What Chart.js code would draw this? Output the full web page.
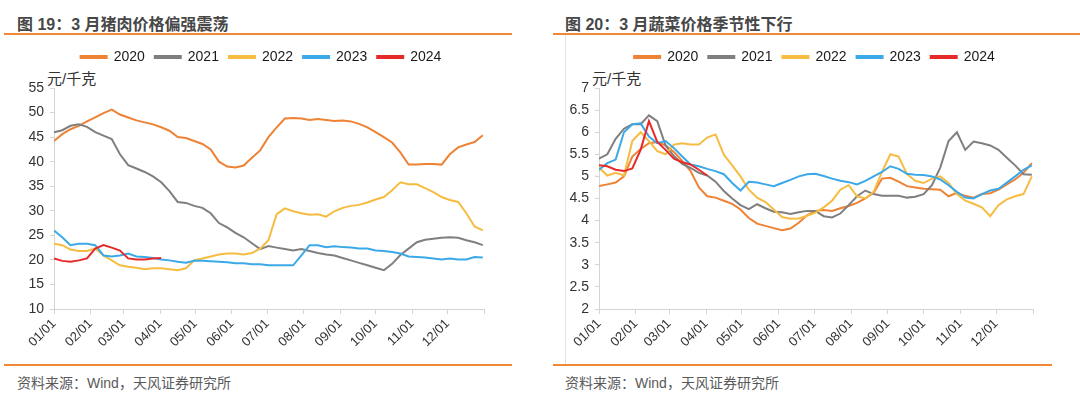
<!DOCTYPE html>
<html>
<head>
<meta charset="utf-8">
<script src="https://cdn.jsdelivr.net/npm/chart.js@4.4.1/dist/chart.umd.min.js"></script>
<style>
  body { margin: 0; background: #fff; width: 1080px; height: 395px; position: relative; overflow: hidden;
         font-family: "Liberation Sans", "Noto Sans CJK SC", sans-serif; }
  .title { position: absolute; top: 11px; font-size: 16px; font-weight: bold; color: #474747; white-space: nowrap; }
  .rule { position: absolute; height: 2px; background: #F0883A; }
  .unit { position: absolute; top: 67px; font-size: 15px; color: #333; }
  .source { position: absolute; top: 372px; font-size: 14px; color: #595959; white-space: nowrap; }
  canvas { position: absolute; }
</style>
</head>
<body>
<div class="title" style="left:17px">图 19：3 月猪肉价格偏强震荡</div>
<div class="rule" style="left:4px; width:508px; top:33px"></div>
<div class="unit" style="left:47px">元/千克</div>
<canvas id="pork" width="515" height="323" style="left:0; top:36px"></canvas>
<div class="rule" style="left:4px; width:508px; top:364px; height:1.5px"></div>
<div class="source" style="left:17px">资料来源：Wind，天风证券研究所</div>

<div class="title" style="left:565px">图 20：3 月蔬菜价格季节性下行</div>
<div class="rule" style="left:553px; width:527px; top:33px"></div>
<div style="position:absolute; left:565px; top:35px; width:1px; height:330px; background:#e3e3e3"></div>
<div class="unit" style="left:592px">元/千克</div>
<canvas id="veg" width="514" height="323" style="left:566px; top:36px"></canvas>
<div class="rule" style="left:553px; width:499px; top:364px; height:1.5px"></div>
<div class="source" style="left:565px">资料来源：Wind，天风证券研究所</div>

<script>
// x positions: day of year, sampled weekly
const days = [0,7,14,21,28,35,42,49,56,63,70,77,84,91,98,105,112,119,126,133,140,147,154,161,168,175,182,
  189,196,203,210,217,224,231,238,245,252,259,266,273,280,287,294,301,308,315,322,329,336,343,350,357,364];
const monthTicks = [0,31,59,90,120,151,181,212,243,273,304,334,365];
const monthLabels = ['01/01','02/01','03/01','04/01','05/01','06/01','07/01','08/01','09/01','10/01','11/01','12/01',''];
const years = ['2020','2021','2022','2023','2024'];
const colors = ['#EE8235','#7F7F7F','#F6BC42','#3BA9E8','#E62A2A'];

// 猪肉 元/千克
const pork2020 = [44.2,45.6,46.6,47.3,48.2,49.0,49.9,50.6,49.6,49.0,48.4,48.0,47.6,47.0,46.3,45.0,44.8,44.2,43.6,42.5,40.0,39.0,38.8,39.2,40.8,42.3,45.0,
  47.0,48.8,48.9,48.8,48.5,48.7,48.5,48.3,48.4,48.2,47.7,47.0,46.0,45.0,43.9,41.9,39.4,39.4,39.5,39.5,39.4,41.5,42.9,43.5,44.0,45.4];
const pork2021 = [46.0,46.4,47.3,47.6,47.1,46.0,45.3,44.6,41.5,39.3,38.6,37.9,37.0,35.8,34.0,31.8,31.6,31.0,30.6,29.5,27.5,26.6,25.5,24.6,23.4,22.2,22.8,
  22.5,22.2,21.9,22.2,21.8,21.4,21.1,20.9,20.4,19.9,19.4,18.9,18.4,17.9,19.2,21.0,22.3,23.6,24.1,24.3,24.5,24.6,24.5,24.0,23.6,23.0];
const pork2022 = [23.3,23.0,22.1,21.8,21.8,22.3,20.9,19.9,18.9,18.6,18.4,18.1,18.3,18.3,18.1,17.9,18.3,19.9,20.3,20.7,21.1,21.3,21.3,21.1,21.4,22.3,24.0,
  29.3,30.5,29.9,29.5,29.2,29.3,28.8,29.9,30.6,31.0,31.2,31.7,32.3,32.8,34.2,35.8,35.4,35.4,34.6,33.8,32.8,32.2,31.8,29.5,26.8,26.0];
const pork2023 = [26.0,24.6,23.0,23.3,23.3,23.0,20.9,20.7,20.9,21.3,20.7,20.6,20.4,20.1,19.9,19.6,19.4,19.8,19.8,19.7,19.6,19.5,19.3,19.3,19.1,19.1,18.9,
  18.9,18.9,18.9,20.9,23.0,23.0,22.6,22.8,22.6,22.5,22.3,22.3,21.9,21.8,21.6,21.3,20.7,20.6,20.5,20.3,20.1,20.3,20.1,20.1,20.6,20.5];
const pork2024 = [20.3,19.8,19.6,19.9,20.3,22.3,23.0,22.5,21.9,20.3,20.1,20.1,20.3,20.4];

// 蔬菜 元/千克
const veg2020 = [4.78,4.82,4.86,5.0,5.45,5.62,5.75,5.78,5.7,5.55,5.35,5.12,4.75,4.55,4.52,4.45,4.38,4.25,4.06,3.93,3.88,3.83,3.78,3.82,3.95,4.12,4.22,
  4.24,4.22,4.28,4.33,4.4,4.5,4.63,4.95,4.97,4.88,4.78,4.75,4.72,4.71,4.7,4.55,4.63,4.56,4.52,4.6,4.62,4.7,4.82,4.93,5.08,5.3];
const veg2021 = [5.4,5.5,5.85,6.08,6.18,6.18,6.38,6.25,5.7,5.46,5.28,5.19,5.08,5.02,4.88,4.67,4.5,4.35,4.26,4.37,4.28,4.2,4.19,4.15,4.19,4.22,4.22,
  4.1,4.07,4.16,4.35,4.55,4.68,4.6,4.56,4.56,4.56,4.52,4.54,4.6,4.8,5.2,5.8,6.0,5.6,5.79,5.75,5.7,5.6,5.42,5.25,5.05,5.04];
const veg2022 = [5.2,5.02,5.08,5.02,5.8,6.0,5.8,5.57,5.5,5.72,5.75,5.72,5.72,5.88,5.95,5.49,5.25,5.0,4.7,4.52,4.42,4.25,4.08,4.04,4.05,4.11,4.18,
  4.3,4.45,4.7,4.8,4.55,4.5,4.65,5.1,5.5,5.45,5.05,4.9,4.85,4.95,5.0,4.85,4.6,4.45,4.38,4.3,4.1,4.35,4.48,4.55,4.6,5.0];
const veg2023 = [5.15,5.3,5.38,6.0,6.18,6.2,5.9,5.75,5.8,5.64,5.45,5.27,5.23,5.17,5.12,5.05,4.85,4.68,4.88,4.86,4.82,4.78,4.85,4.92,5.0,5.05,5.06,
  5.01,4.95,4.9,4.87,4.82,4.9,5.0,5.1,5.23,5.17,5.06,5.04,5.03,5.0,4.93,4.8,4.65,4.52,4.5,4.6,4.68,4.72,4.86,5.0,5.15,5.25];
const veg2024 = [5.25,5.23,5.15,5.12,5.18,5.6,6.25,5.78,5.6,5.4,5.32,5.27,5.15,5.02];

const FONT = '"Liberation Sans", "Noto Sans CJK SC", sans-serif';

// legend: extra room below it, and nudged right like the original
function legendTweak(dx) {
    return {
        id: 'legendTweak',
        afterInit(chart) {
            const lg = chart.legend;
            if (!lg) return;
            const fit = lg.fit;
            lg.fit = function () {
                fit.call(this);
                this.height += 14;
            };
            const draw = lg.draw;
            lg.draw = function () {
                const ctx = this.ctx;
                ctx.save();
                ctx.translate(dx, 0);
                draw.apply(this, arguments);
                ctx.restore();
            };
        }
    };
}

function makeChart(id, series, yMin, yMax, step, padRight, yWidth, legendDx) {
    const drawOrder = [4, 3, 2, 1, 0];
    const datasets = series.map((vals, i) => ({
        label: years[i],
        data: vals.map((v, j) => ({ x: days[j], y: v })),
        borderColor: colors[i],
        backgroundColor: colors[i],
        borderWidth: 2,
        pointRadius: 0,
        tension: 0,
        order: drawOrder[i]
    }));

    return new Chart(document.getElementById(id), {
        type: 'line',
        data: { datasets },
        plugins: [legendTweak(legendDx)],
        options: {
            responsive: false,
            animation: false,
            devicePixelRatio: 1,
            layout: { padding: { top: 4, right: padRight, left: 0, bottom: 0 } },
            plugins: {
                tooltip: { enabled: false },
                legend: {
                    position: 'top',
                    labels: {
                        boxWidth: 26,
                        boxHeight: 2,
                        padding: 10,
                        color: '#1a1a1a',
                        font: { family: FONT, size: 14 },
                        sort: (a, b) => a.datasetIndex - b.datasetIndex
                    }
                }
            },
            scales: {
                x: {
                    type: 'linear',
                    min: 0,
                    max: 365,
                    afterBuildTicks: (scale) => {
                        scale.ticks = monthTicks.map(v => ({ value: v }));
                    },
                    afterFit: (scale) => { scale.height = 50; },
                    ticks: {
                        autoSkip: false,
                        minRotation: 45,
                        maxRotation: 45,
                        padding: 2,
                        color: '#333',
                        font: { family: FONT, size: 13 },
                        callback: (value) => {
                            const k = monthTicks.indexOf(value);
                            return k >= 0 ? monthLabels[k] : '';
                        }
                    },
                    grid: { drawOnChartArea: false, tickLength: 5, color: '#d4d4d4' },
                    border: { color: '#d4d4d4' }
                },
                y: {
                    min: yMin,
                    max: yMax,
                    afterFit: (scale) => { scale.width = yWidth; },
                    ticks: {
                        stepSize: step,
                        padding: 6,
                        color: '#333',
                        font: { family: FONT, size: 14 },
                        callback: (value) => String(+value.toFixed(1))
                    },
                    grid: { drawOnChartArea: false, tickLength: 4, color: '#d4d4d4' },
                    border: { color: '#d4d4d4' }
                }
            }
        }
    });
}

makeChart('pork', [pork2020, pork2021, pork2022, pork2023, pork2024], 10, 55, 5, 31, 54, 19);
makeChart('veg', [veg2020, veg2021, veg2022, veg2023, veg2024], 2, 7, 0.5, 47, 33, 15);
</script>
</body>
</html>
